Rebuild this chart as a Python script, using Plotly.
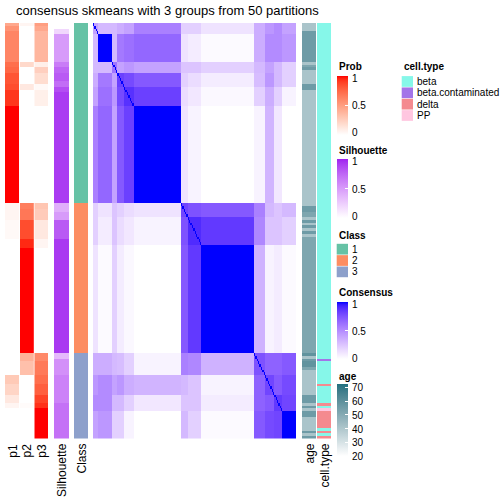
import plotly.graph_objects as go

# ------------------------------------------------------------------ data
N = 150
class_sizes = [65, 54, 31]
class_names = ["1", "2", "3"]
class_colors = ["#66C2A5", "#FC8D62", "#8DA0CB"]

# membership probabilities, run-length encoded: (p1, p2, p3, n_samples)
prob_segments = [
    (0.45, 0.05, 0.50, 1), (0.55, 0.00, 0.45, 2), (0.62, 0.00, 0.38, 11),
    (0.72, 0.20, 0.08, 2), (0.75, 0.00, 0.25, 2), (0.82, 0.00, 0.18, 4),
    (0.85, 0.12, 0.03, 2), (0.92, 0.00, 0.08, 6), (1.00, 0.00, 0.00, 35),
    (0.05, 0.65, 0.30, 2), (0.05, 0.68, 0.27, 4), (0.03, 0.85, 0.12, 7),
    (0.00, 0.95, 0.05, 3), (0.00, 1.00, 0.00, 38),
    (0.00, 0.40, 0.60, 3), (0.00, 0.33, 0.67, 5), (0.28, 0.00, 0.72, 3),
    (0.22, 0.00, 0.78, 4), (0.12, 0.00, 0.88, 3), (0.05, 0.02, 0.93, 2),
    (0.00, 0.00, 1.00, 11),
]

# silhouette, run-length encoded: (value, n_samples)
silhouette_segments = [
    (0.0, 2), (0.2, 2), (0.5, 10), (0.65, 2), (0.75, 2), (0.8, 3), (0.72, 2),
    (0.85, 2), (0.92, 40),
    (0.4, 3), (0.5, 3), (0.8, 7), (0.93, 41),
    (0.35, 2), (0.55, 6), (0.62, 10), (0.7, 13),
]

# age, run-length encoded: (age, n_samples)
age_segments = [
    (41, 3), (56, 11), (41, 1), (52, 1), (56, 1), (41, 5), (56, 2), (41, 42),
    (56, 2), (52, 2), (41, 1), (56, 1), (41, 1), (56, 1), (41, 1), (56, 1),
    (41, 1), (52, 42), (59, 1), (41, 1), (56, 1), (59, 2), (52, 1), (41, 9),
    (56, 3), (41, 1), (56, 1), (41, 1), (56, 2), (41, 5), (56, 1), (41, 1),
    (56, 1),
]

celltype_names = ["beta", "beta.contaminated", "delta", "PP"]
celltype_colors = ["#86F7E9", "#A374E8", "#F48A8F", "#FFC6E0"]
# cell type codes (index into celltype_names), run-length encoded
celltype_segments = [
    (0, 121), (1, 1), (0, 8), (2, 1), (0, 6), (2, 1), (0, 1), (3, 1),
    (2, 6), (0, 1), (2, 1), (0, 1), (2, 1),
]

# consensus matrix: sub-groups of consecutive samples and their mean consensus
sub_sizes = [4, 10, 4, 5, 7, 35, 5, 10, 39, 8, 7, 6, 10]
sub_consensus = [
    [0.40, 0.30, 0.30, 0.35, 0.40, 0.55, 0.20, 0.20, 0.12, 0.35, 0.45, 0.50, 0.40],
    [0.30, 1.00, 0.30, 0.58, 0.62, 0.66, 0.12, 0.08, 0.02, 0.35, 0.50, 0.50, 0.45],
    [0.30, 0.30, 0.60, 0.40, 0.45, 0.40, 0.25, 0.25, 0.20, 0.30, 0.40, 0.30, 0.20],
    [0.35, 0.58, 0.40, 0.82, 0.78, 0.72, 0.20, 0.15, 0.08, 0.28, 0.45, 0.30, 0.20],
    [0.40, 0.62, 0.45, 0.78, 0.88, 0.82, 0.15, 0.10, 0.03, 0.20, 0.35, 0.20, 0.05],
    [0.55, 0.66, 0.40, 0.72, 0.82, 1.00, 0.12, 0.05, 0.00, 0.05, 0.32, 0.10, 0.00],
    [0.20, 0.12, 0.25, 0.20, 0.15, 0.12, 0.80, 0.75, 0.72, 0.55, 0.30, 0.25, 0.30],
    [0.20, 0.08, 0.25, 0.15, 0.10, 0.05, 0.75, 0.90, 0.85, 0.52, 0.25, 0.25, 0.20],
    [0.12, 0.02, 0.20, 0.08, 0.03, 0.00, 0.72, 0.85, 1.00, 0.33, 0.05, 0.08, 0.02],
    [0.35, 0.35, 0.30, 0.28, 0.20, 0.05, 0.55, 0.52, 0.33, 0.75, 0.68, 0.68, 0.72],
    [0.45, 0.50, 0.40, 0.45, 0.35, 0.32, 0.30, 0.25, 0.05, 0.68, 0.80, 0.72, 0.78],
    [0.50, 0.50, 0.30, 0.30, 0.20, 0.10, 0.25, 0.25, 0.08, 0.68, 0.72, 0.85, 0.80],
    [0.40, 0.45, 0.20, 0.20, 0.05, 0.00, 0.30, 0.20, 0.02, 0.72, 0.78, 0.80, 1.00],
]

title_text = "consensus skmeans with 3 groups from 50 partitions"

# ------------------------------------------------------------------ helpers
def expand(segs):
    out = []
    for v, c in segs:
        out += [v] * c
    return out


def hex2rgb(h):
    h = h.lstrip('#')
    return [int(h[i:i + 2], 16) for i in (0, 2, 4)]


def rgb2lab(rgb):
    def lin(c):
        c /= 255.0
        return c / 12.92 if c <= 0.04045 else ((c + 0.055) / 1.055) ** 2.4
    r, g, b = [lin(c) for c in rgb]
    X = (0.4124 * r + 0.3576 * g + 0.1805 * b) / 0.95047
    Y = 0.2126 * r + 0.7152 * g + 0.0722 * b
    Z = (0.0193 * r + 0.1192 * g + 0.9505 * b) / 1.08883
    f = lambda t: t ** (1 / 3) if t > 0.008856 else 7.787 * t + 16 / 116
    fx, fy, fz = f(X), f(Y), f(Z)
    return (116 * fy - 16, 500 * (fx - fy), 200 * (fy - fz))


def lab2rgb(lab):
    L, a, b = lab
    fy = (L + 16) / 116
    fx = fy + a / 500
    fz = fy - b / 200
    finv = lambda t: t ** 3 if t ** 3 > 0.008856 else (t - 16 / 116) / 7.787
    X = finv(fx) * 0.95047
    Y = finv(fy)
    Z = finv(fz) * 1.08883
    r = 3.2406 * X - 1.5372 * Y - 0.4986 * Z
    g = -0.9689 * X + 1.8758 * Y + 0.0415 * Z
    bb = 0.0557 * X - 0.2040 * Y + 1.0570 * Z

    def gam(c):
        c = max(0.0, min(1.0, c))
        return 12.92 * c if c <= 0.0031308 else 1.055 * c ** (1 / 2.4) - 0.055
    return 'rgb(%d,%d,%d)' % tuple(round(255 * gam(c)) for c in (r, g, bb))


def lab_scale(c0, c1, n=21):
    l0 = rgb2lab(hex2rgb(c0))
    l1 = rgb2lab(hex2rgb(c1))
    return [[i / (n - 1), lab2rgb([l0[k] + (l1[k] - l0[k]) * i / (n - 1) for k in range(3)])]
            for i in range(n)]


def discrete_scale(colors):
    n = len(colors)
    sc = []
    for i, c in enumerate(colors):
        sc.append([i / n, c])
        sc.append([(i + 1) / n, c])
    return sc


W = H = 504
FONT = "Liberation Sans, Arial, Helvetica, sans-serif"
px = lambda x: x / W
py = lambda y: 1 - y / H

# ------------------------------------------------------------------ derived
p1 = expand([(a, n) for a, b, c, n in prob_segments])
p2 = expand([(b, n) for a, b, c, n in prob_segments])
p3 = expand([(c, n) for a, b, c, n in prob_segments])
sil = expand(silhouette_segments)
age = expand(age_segments)
ctype = expand(celltype_segments)
cls = []
for k, s in enumerate(class_sizes):
    cls += [k] * s
sub = []
for g, s in enumerate(sub_sizes):
    sub += [g] * s
cons = [[1.0 if i == j else sub_consensus[sub[i]][sub[j]] for j in range(N)] for i in range(N)]

rows = list(range(N))
col = lambda v: [[x] for x in v]

fig = go.Figure()
track_defs = [
    ('x', 5, 19.4), ('x2', 20, 33.8), ('x3', 34.3, 48), ('x4', 54, 69),
    ('x5', 74, 88), ('x6', 93, 296), ('x7', 302, 316), ('x8', 317, 331),
]

fig.add_trace(go.Heatmap(z=col(p1), y=rows, xaxis='x', yaxis='y', coloraxis='coloraxis'))
fig.add_trace(go.Heatmap(z=col(p2), y=rows, xaxis='x2', yaxis='y', coloraxis='coloraxis'))
fig.add_trace(go.Heatmap(z=col(p3), y=rows, xaxis='x3', yaxis='y', coloraxis='coloraxis'))
fig.add_trace(go.Heatmap(z=col(sil), y=rows, xaxis='x4', yaxis='y', coloraxis='coloraxis2'))
fig.add_trace(go.Heatmap(z=col(cls), y=rows, xaxis='x5', yaxis='y', zmin=-0.5, zmax=2.5,
                         colorscale=discrete_scale(class_colors), showscale=False))
fig.add_trace(go.Heatmap(z=cons, x=rows, y=rows, xaxis='x6', yaxis='y', coloraxis='coloraxis3'))
fig.add_trace(go.Heatmap(z=col(age), y=rows, xaxis='x7', yaxis='y', coloraxis='coloraxis4'))
fig.add_trace(go.Heatmap(z=col(ctype), y=rows, xaxis='x8', yaxis='y', zmin=-0.5, zmax=3.5,
                         colorscale=discrete_scale(celltype_colors), showscale=False))

layout = dict(
    width=W, height=H, margin=dict(l=0, r=0, t=0, b=0),
    paper_bgcolor='white', plot_bgcolor='white', showlegend=False,
    font=dict(family=FONT, color='black'),
    yaxis=dict(domain=[py(438.5), py(23)], range=[N - 0.5, -0.5], visible=False, fixedrange=True),
)
for name, x0, x1 in track_defs:
    key = 'xaxis' if name == 'x' else 'xaxis' + name[1:]
    layout[key] = dict(domain=[px(x0), px(x1)], visible=False, fixedrange=True, anchor='y')
layout['xaxis6']['range'] = [-0.5, N - 0.5]

annotations = []
shapes = []
BAR_X0, BAR_W = 336.7, 11.3


def cbar(top, bottom, tickvals):
    return dict(x=px(BAR_X0), xanchor='left', xpad=0, y=py(top), yanchor='top', ypad=0,
                len=bottom - top, lenmode='pixels', thickness=BAR_W, thicknessmode='pixels',
                outlinewidth=0, tickvals=tickvals, ticks='inside', showticklabels=False,
                ticklen=2.5, tickwidth=1, tickcolor='white', title=dict(text=''))


def bar_legend(top, bottom, cmin, cmax, tickvals, labels):
    # white dashes on the left edge (plotly draws the right ones) + labels
    for v in tickvals:
        yv = bottom - (v - cmin) / (cmax - cmin) * (bottom - top)
        shapes.append(dict(type='line', xref='paper', yref='paper', x0=px(BAR_X0),
                           x1=px(BAR_X0 + 2.5), y0=py(yv), y1=py(yv),
                           line=dict(color='white', width=1)))
    for t, yl in labels:
        annotations.append(dict(text=t, x=px(349.8), y=py(yl), xref='paper', yref='paper',
                                xanchor='left', yanchor='middle', showarrow=False,
                                font=dict(size=10, family=FONT, color='black')))
    return cbar(top, bottom, tickvals)


layout['coloraxis'] = dict(cmin=0, cmax=1, colorscale=lab_scale('#FFFFFF', '#FF0000'),
                           colorbar=bar_legend(75.7, 134.3, 0, 1, [0, 0.5, 1],
                                               [('1', 78.5), ('0.5', 105), ('0', 132.5)]))
layout['coloraxis2'] = dict(cmin=0, cmax=1, colorscale=lab_scale('#FFFFFF', '#A020F0'),
                            colorbar=bar_legend(159.3, 218.7, 0, 1, [0, 0.5, 1],
                                                [('1', 162), ('0.5', 189), ('0', 216.5)]))
layout['coloraxis3'] = dict(cmin=0, cmax=1, colorscale=lab_scale('#FFFFFF', '#0000FF'),
                            colorbar=bar_legend(302.3, 359.7, 0, 1, [0, 0.5, 1],
                                                [('1', 304.5), ('0.5', 331.5), ('0', 358.5)]))
layout['coloraxis4'] = dict(cmin=20, cmax=72.4, colorscale=lab_scale('#FFFFFF', '#21707F'),
                            colorbar=bar_legend(384, 456, 20, 72.4, [20, 30, 40, 50, 60, 70],
                                                [('70', 387.3), ('60', 401.5), ('50', 415.3),
                                                 ('40', 429.2), ('30', 442.5), ('20', 456.5)]))

annotations.append(dict(text=title_text, x=px(167.5), y=py(10), xref='paper', yref='paper',
                        xanchor='center', yanchor='middle', showarrow=False,
                        font=dict(size=13, family=FONT, color='black')))

bottom_labels = [("p1", 12.2), ("p2", 26.9), ("p3", 41.2), ("Silhouette", 61.5),
                 ("Class", 81), ("age", 309), ("cell.type", 324)]
for t, xc in bottom_labels:
    annotations.append(dict(text=t, x=px(xc), y=py(441.5), xref='paper', yref='paper',
                            xanchor='center', yanchor='top', textangle=-90, showarrow=False,
                            font=dict(size=12, family=FONT, color='black')))

# legend titles
for t, x, y in [("Prob", 336.7, 66.5), ("Silhouette", 336.7, 150.5), ("Class", 336.7, 235),
                ("Consensus", 336.7, 292.5), ("age", 336.7, 376.5), ("cell.type", 401.7, 66.5)]:
    annotations.append(dict(text="<b>%s</b>" % t, x=px(x), y=py(y), xref='paper', yref='paper',
                            xanchor='left', yanchor='middle', showarrow=False,
                            font=dict(size=10, family=FONT, color='black')))


# discrete legends
def discrete_legend(names, colors, x0, y0):
    step = 11.34
    for i, (n, c) in enumerate(zip(names, colors)):
        top = y0 + i * step
        shapes.append(dict(type='rect', xref='paper', yref='paper', x0=px(x0), x1=px(x0 + 11.3),
                           y0=py(top + 0.3), y1=py(top + step - 0.3), fillcolor=c,
                           line=dict(width=0)))
        annotations.append(dict(text=n, x=px(x0 + 13.3), y=py(top + step / 2), xref='paper',
                                yref='paper', xanchor='left', yanchor='middle', showarrow=False,
                                font=dict(size=10, family=FONT, color='black')))


discrete_legend(class_names, class_colors, 336.7, 243.5)
discrete_legend(celltype_names, celltype_colors, 401.7, 75.8)

layout['annotations'] = annotations
layout['shapes'] = shapes
fig.update_layout(**layout)
fig.write_html("out.html", config={'displayModeBar': False},
               post_script="document.body.style.margin='0';document.body.style.padding='0';")
